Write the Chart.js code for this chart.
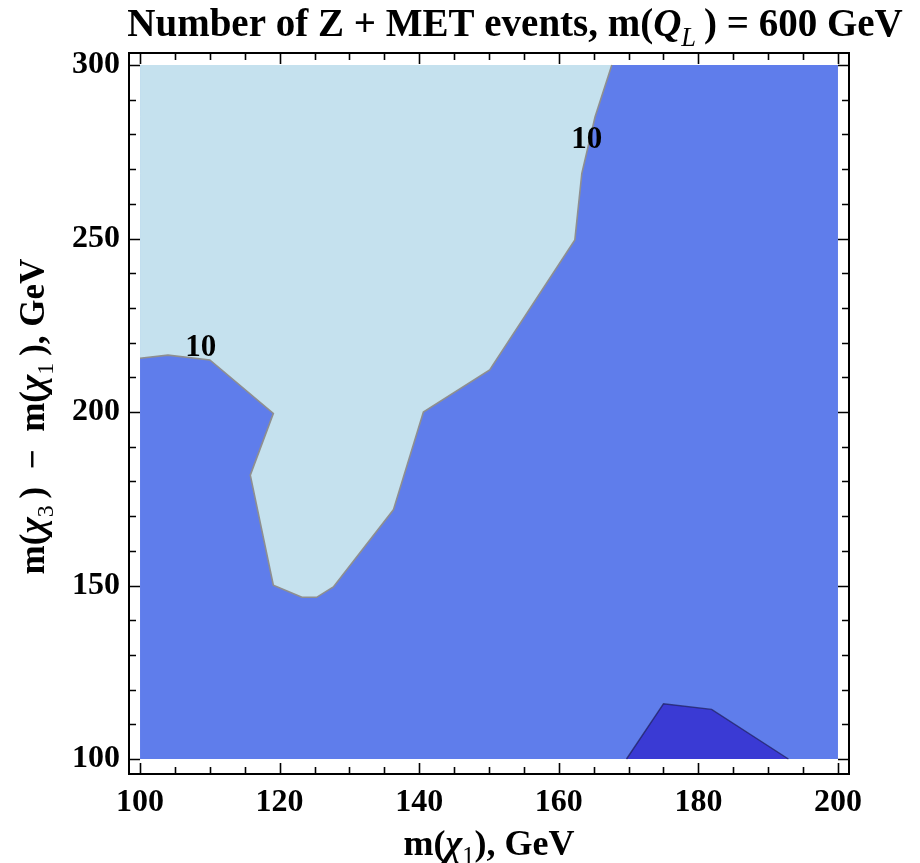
<!DOCTYPE html>
<html>
<head>
<meta charset="utf-8">
<script src="https://cdn.jsdelivr.net/npm/chart.js@4.4.1/dist/chart.umd.min.js"></script>
<style>
html, body { margin: 0; padding: 0; background: #fff; }
#kutu { width: 920px; height: 863px; }
</style>
</head>
<body>
<div id="kutu"><canvas id="kontur"></canvas></div>
<script>
// data window
var xMin = 100, xMax = 200, yMin = 100, yMax = 300;

// tick labels
var xTicks = [100, 120, 140, 160, 180, 200];
var yTicks = [100, 150, 200, 250, 300];
var xMinorStep = 5;
var yMinorStep = 10;

// the "10 events" contour, from left edge to top edge
var onX = [100, 104, 110, 119.1, 115.8, 119.1, 123.2, 125.3, 127.7, 136.3, 140.6, 150.1, 162.3, 163.3, 165.2, 167.6];
var onY = [215.5, 216.4, 215, 199.6, 181.8, 150.1, 146.6, 146.6, 149.6, 171.8, 200, 212.1, 249.6, 268.8, 285.1, 300];

// the small dark region at the bottom
var karaX = [169.7, 175, 181.9, 192.9];
var karaY = [100, 115.9, 114.3, 100];

// contour labels
var etiketX = [108.7, 164];
var etiketY = [218.5, 278.4];
var etiketYazi = ["10", "10"];

// texts
var baslik = [
    { t: "Number of Z + MET events, m(" },
    { t: "Q", it: true },
    { t: "L", it: true, sub: true },
    { t: "\u2009) = 600 GeV" }
];
var xBaslik = [
    { t: "m(" }, { t: "\u03C7", it: true }, { t: "1", sub: true }, { t: "), GeV" }
];
var yBaslik = [
    { t: "m(" }, { t: "\u03C7", it: true }, { t: "3", sub: true },
    { t: "\u2009)\u2002\u2212\u2002m(" }, { t: "\u03C7", it: true }, { t: "1", sub: true }, { t: "\u2009), GeV" }
];

var acik = "#c5e1ee";
var orta = "#5f7deb";
var koyu = "#3a3ad4";
var yazi = "Liberation Serif";

function noktalar(xs, ys) {
    return xs.map(function (x, i) { return { x: x, y: ys[i] }; });
}

var arka = noktalar([xMin, xMax, xMax, xMin], [yMin, yMin, yMax, yMax]);
var acikAlan = noktalar(onX.concat([xMin]), onY.concat([yMax]));

function fontOf(p, size) {
    var s = p.sub ? size * 0.68 : size;
    return (p.it ? "italic " : "") + (p.sub ? "" : "bold ") + s + "px '" + yazi + "'";
}

function zenginYazi(ctx, parcalar, cx, cy, size) {
    var toplam = 0;
    parcalar.forEach(function (p) {
        ctx.font = fontOf(p, size);
        toplam += ctx.measureText(p.t).width;
    });
    var x = cx - toplam / 2;
    ctx.textAlign = "left";
    ctx.textBaseline = "alphabetic";
    parcalar.forEach(function (p) {
        ctx.font = fontOf(p, size);
        ctx.fillText(p.t, x, cy + (p.sub ? size * 0.25 : 0));
        x += ctx.measureText(p.t).width;
    });
}

var cerceve = {
    id: "cerceve",
    afterDatasetsDraw: function (chart) {
        var ctx = chart.ctx, a = chart.chartArea;
        var sx = chart.scales.x, sy = chart.scales.y;
        ctx.save();
        ctx.fillStyle = "#000";
        ctx.font = "bold 31px '" + yazi + "'";
        ctx.textAlign = "center";
        ctx.textBaseline = "middle";
        for (var i = 0; i < etiketYazi.length; i++) {
            ctx.fillText(etiketYazi[i], sx.getPixelForValue(etiketX[i]), sy.getPixelForValue(etiketY[i]));
        }
        ctx.strokeStyle = "#000";
        ctx.lineWidth = 2;
        ctx.strokeRect(a.left, a.top, a.right - a.left, a.bottom - a.top);
        ctx.lineWidth = 1.6;
        ctx.beginPath();
        for (var v = xMin; v <= xMax; v += xMinorStep) {
            var px = Math.round(sx.getPixelForValue(v)) + 0.5;
            var L = (v % 20 === 0) ? 11 : 7;
            ctx.moveTo(px, a.bottom); ctx.lineTo(px, a.bottom - L);
            ctx.moveTo(px, a.top); ctx.lineTo(px, a.top + L);
        }
        for (var w = yMin; w <= yMax; w += yMinorStep) {
            var py = Math.round(sy.getPixelForValue(w)) + 0.5;
            var L2 = (w % 50 === 0) ? 11 : 7;
            ctx.moveTo(a.left, py); ctx.lineTo(a.left + L2, py);
            ctx.moveTo(a.right, py); ctx.lineTo(a.right - L2, py);
        }
        ctx.stroke();
        ctx.restore();
    },
    afterDraw: function (chart) {
        var ctx = chart.ctx, a = chart.chartArea;
        ctx.save();
        ctx.fillStyle = "#000";
        zenginYazi(ctx, baslik, 515, 36, 39);
        zenginYazi(ctx, xBaslik, (a.left + a.right) / 2, 855, 36);
        ctx.translate(44, (a.top + a.bottom) / 2 + 3);
        ctx.rotate(-Math.PI / 2);
        zenginYazi(ctx, yBaslik, 0, 0, 35);
        ctx.restore();
    }
};

var chart = new Chart("kontur", {
    type: "scatter",
    data: {
        datasets: [{
            data: arka, showLine: true, fill: "shape", backgroundColor: orta,
            borderWidth: 0, pointRadius: 0, order: 5
        }, {
            data: acikAlan, showLine: true, fill: "shape", backgroundColor: acik,
            borderWidth: 0, pointRadius: 0, order: 4
        }, {
            data: noktalar(karaX, karaY), showLine: true, fill: "shape", backgroundColor: koyu,
            borderWidth: 0, pointRadius: 0, order: 3
        }, {
            data: noktalar(onX, onY), showLine: true, fill: false, borderColor: "#8f8f8f",
            borderWidth: 1.6, pointRadius: 0, order: 2
        }, {
            data: noktalar(karaX, karaY), showLine: true, fill: false, borderColor: "rgba(30,30,90,0.7)",
            borderWidth: 1.4, pointRadius: 0, order: 1
        }]
    },
    options: {
        responsive: true,
        maintainAspectRatio: false,
        animation: false,
        events: [],
        layout: { padding: { left: 0, top: 53, right: 71, bottom: 0 } },
        plugins: {
            legend: { display: false },
            title: { display: false },
            tooltip: { enabled: false }
        },
        scales: {
            x: {
                type: "linear",
                min: 98.42, max: 201.58,
                grid: { display: false, drawTicks: false },
                border: { display: false },
                afterBuildTicks: function (s) { s.ticks = xTicks.map(function (v) { return { value: v }; }); },
                afterFit: function (s) { s.height = 89; },
                ticks: { padding: 10, color: "#000", font: { family: yazi, size: 32, weight: "bold" } }
            },
            y: {
                type: "linear",
                min: 95.68, max: 303.46,
                grid: { display: false, drawTicks: false },
                border: { display: false },
                afterBuildTicks: function (s) { s.ticks = yTicks.map(function (v) { return { value: v }; }); },
                afterFit: function (s) { s.width = 129; },
                ticks: { padding: 9, color: "#000", font: { family: yazi, size: 32, weight: "bold" } }
            }
        }
    },
    plugins: [cerceve]
});
</script>
</body>
</html>
